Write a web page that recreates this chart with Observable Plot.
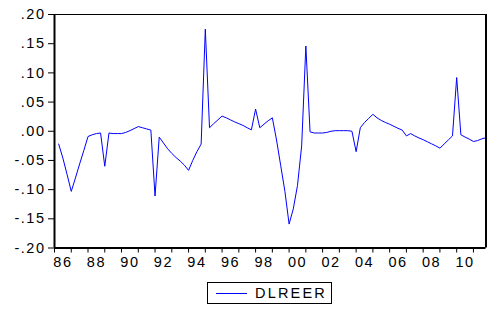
<!DOCTYPE html>
<html>
<head>
<meta charset="utf-8">
<script src="https://cdn.jsdelivr.net/npm/d3@7"></script>
<script src="https://cdn.jsdelivr.net/npm/@observablehq/plot@0.6"></script>
<style>
  html, body { margin: 0; padding: 0; background: #fff; }
  #legend {
    margin-left: 207px; margin-top: 10px;
    width: 125px; height: 22px; box-sizing: border-box;
    border: 1px solid #000;
    display: flex; align-items: center; padding-left: 8px;
    font: 14.5px "Liberation Sans", Arial, sans-serif; letter-spacing: 2.2px; color: #000;
  }
  #legend .swatch { width: 31px; height: 1px; background: #0000ff; margin-right: 8px; flex: none; }
</style>
</head>
<body>
<div id="chart"></div>
<script>
// ---- data ----
const seriesName = "DLREER";
const startYear = 1986;
const startQuarter = 2; // first observation 1986Q2
const dlreer = [
  -0.022, -0.046, -0.074,                 // 1986 Q2-Q4
  -0.103, -0.080, -0.056, -0.033,         // 1987
  -0.009, -0.006, -0.004, -0.003,         // 1988
  -0.060, -0.003, -0.004, -0.004,         // 1989
  -0.004, -0.002, 0.001, 0.0045,          // 1990
  0.008, 0.006, 0.004, 0.002,             // 1991
  -0.111, -0.010, -0.020, -0.030,         // 1992
  -0.038, -0.045, -0.051, -0.058,         // 1993
  -0.067, -0.050, -0.035, -0.022,         // 1994
  0.175, 0.006, 0.013, 0.0195,            // 1995
  0.026, 0.023, 0.0195, 0.016,            // 1996
  0.013, 0.010, 0.006, 0.0024,            // 1997
  0.038, 0.006, 0.012, 0.018,             // 1998
  0.023, -0.015, -0.059, -0.103,          // 1999
  -0.159, -0.133, -0.093, -0.025,         // 2000
  0.146, -0.001, -0.003, -0.003,          // 2001
  -0.003, -0.002, 0.000, 0.001,           // 2002
  0.001, 0.001, 0.001, 0.000,             // 2003
  -0.035, 0.006, 0.015, 0.022,            // 2004
  0.029, 0.023, 0.0185, 0.015,            // 2005
  0.012, 0.0085, 0.005, 0.002,            // 2006
  -0.008, -0.004, -0.008, -0.0115,        // 2007
  -0.0145, -0.018, -0.0215, -0.025,       // 2008
  -0.029, -0.022, -0.015, -0.008,         // 2009
  0.092, -0.006, -0.010, -0.0135,         // 2010
  -0.0175, -0.016, -0.013, -0.011         // 2011
];
const yTickValues = [0.20, 0.15, 0.10, 0.05, 0.00, -0.05, -0.10, -0.15, -0.20];
const yTickLabels = [".20", ".15", ".10", ".05", ".00", "-.05", "-.10", "-.15", "-.20"];
const xLabelYears = [1986, 1988, 1990, 1992, 1994, 1996, 1998, 2000, 2002, 2004, 2006, 2008, 2010];
const xTickLabels = ["86", "88", "90", "92", "94", "96", "98", "00", "02", "04", "06", "08", "10"];
const xTickYears = d3.range(1986, 2012);

// ---- build ----
const rows = dlreer.map((v, i) => ({t: startYear + (startQuarter - 1 + i) / 4, v}));
const xDomain = [1986, 2011.75];

const chart = Plot.plot({
  width: 499,
  height: 272,
  marginLeft: 54,
  marginRight: 13.5,
  marginTop: 14,
  marginBottom: 24.5,
  style: {fontFamily: "'Liberation Sans', Arial, sans-serif", fontSize: "14.5px", color: "#000", background: "#fff", letterSpacing: "1.5px"},
  x: {domain: xDomain, label: null},
  y: {domain: [-0.2, 0.2], label: null},
  marks: [
    Plot.line(rows, {x: "t", y: "v", stroke: "#0000ff", strokeWidth: 1}),
    Plot.ruleY([0.2], {stroke: "#000", strokeWidth: 1, shapeRendering: "crispEdges"}),
    Plot.ruleY([-0.2], {stroke: "#000", strokeWidth: 2}),
    Plot.ruleX([xDomain[0]], {stroke: "#000", strokeWidth: 2}),
    Plot.ruleX([xDomain[1]], {stroke: "#000", strokeWidth: 2}),
    Plot.axisY({ticks: yTickValues, tickSize: 6, tickPadding: 3, label: null,
      tickFormat: d => yTickLabels[yTickValues.indexOf(d)]}),
    Plot.axisX({ticks: xTickYears, tickSize: 5, label: null, tickFormat: () => ""}),
    Plot.axisX({ticks: xLabelYears.map(y => y + 0.5), tickSize: 0, tickPadding: 8.5, label: null,
      tickFormat: d => xTickLabels[xLabelYears.indexOf(d - 0.5)]})
  ]
});
document.getElementById("chart").appendChild(chart);

const legend = document.createElement("div");
legend.id = "legend";
legend.innerHTML = `<span class="swatch"></span><span>${seriesName}</span>`;
document.body.appendChild(legend);
</script>
</body>
</html>
